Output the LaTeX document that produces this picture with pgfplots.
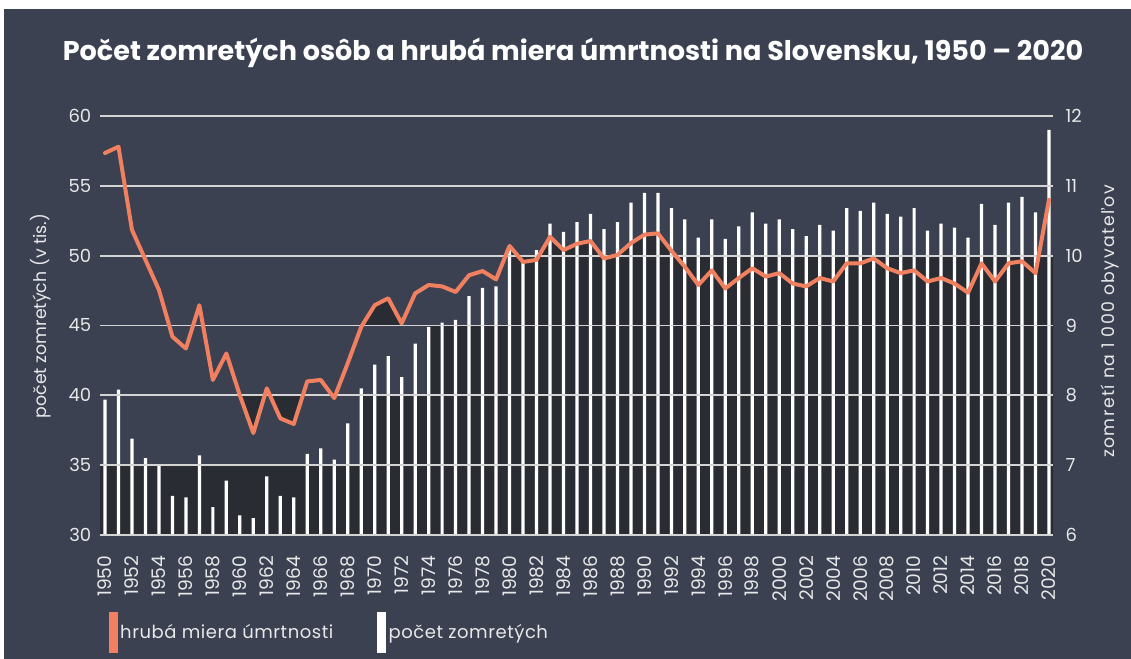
\documentclass[border=0pt]{standalone}
\usepackage{fontspec}
\setmainfont{Poppins}
\usepackage{pgfplots}
\pgfplotsset{compat=1.18}
\usepackage{pgfplotstable}

\definecolor{navy}{RGB}{59,65,81}
\definecolor{darkfill}{RGB}{42,44,51}
\definecolor{myorange}{RGB}{240,128,95}
\definecolor{gridgray}{RGB}{212,212,212}
\definecolor{txt}{RGB}{232,232,232}

% deaths in thousands
\pgfplotstableread{
year deaths
1950 39.7
1951 40.4
1952 36.9
1953 35.5
1954 35.0
1955 32.8
1956 32.7
1957 35.7
1958 32.0
1959 33.9
1960 31.4
1961 31.2
1962 34.2
1963 32.8
1964 32.7
1965 35.8
1966 36.2
1967 35.4
1968 38.0
1969 40.5
1970 42.2
1971 42.8
1972 41.3
1973 43.7
1974 44.9
1975 45.2
1976 45.4
1977 47.1
1978 47.7
1979 47.8
1980 50.4
1981 49.5
1982 50.4
1983 52.3
1984 51.7
1985 52.4
1986 53.0
1987 51.9
1988 52.4
1989 53.8
1990 54.5
1991 54.5
1992 53.4
1993 52.6
1994 51.3
1995 52.6
1996 51.2
1997 52.1
1998 53.1
1999 52.3
2000 52.6
2001 51.9
2002 51.4
2003 52.2
2004 51.8
2005 53.4
2006 53.2
2007 53.8
2008 53.0
2009 52.8
2010 53.4
2011 51.8
2012 52.3
2013 52.0
2014 51.3
2015 53.7
2016 52.2
2017 53.8
2018 54.2
2019 53.1
2020 59.0
}\deathtab

% crude death rate per 1000
\pgfplotstableread{
year rate
1950 11.47
1951 11.56
1952 10.37
1953 9.94
1954 9.51
1955 8.84
1956 8.67
1957 9.29
1958 8.22
1959 8.60
1960 8.00
1961 7.46
1962 8.10
1963 7.67
1964 7.59
1965 8.20
1966 8.22
1967 7.96
1968 8.46
1969 8.98
1970 9.29
1971 9.39
1972 9.03
1973 9.46
1974 9.58
1975 9.56
1976 9.48
1977 9.72
1978 9.78
1979 9.66
1980 10.14
1981 9.91
1982 9.94
1983 10.27
1984 10.08
1985 10.17
1986 10.21
1987 9.96
1988 10.01
1989 10.18
1990 10.30
1991 10.32
1992 10.07
1993 9.84
1994 9.58
1995 9.79
1996 9.53
1997 9.68
1998 9.82
1999 9.70
2000 9.75
2001 9.60
2002 9.56
2003 9.68
2004 9.63
2005 9.89
2006 9.89
2007 9.96
2008 9.82
2009 9.75
2010 9.79
2011 9.63
2012 9.68
2013 9.60
2014 9.47
2015 9.89
2016 9.63
2017 9.89
2018 9.92
2019 9.75
2020 10.80
}\ratetab

\begin{document}
\begin{tikzpicture}[x=0.75pt,y=0.75pt]
\path[use as bounding box] (0,0) rectangle (1131,659);
\fill[white] (0,0) rectangle (1131,659);
\fill[navy] (4,0) rectangle (1131,650);
\node[text=white, font=\bfseries\fontsize{20.3}{23}\selectfont] at (573,606)
  {Počet zomretých osôb a hrubá miera úmrtnosti na Slovensku, 1950 – 2020};

\begin{axis}[
  at={(100pt*0.75,124pt*0.75)}, anchor=south west,
  width=714.75pt, height=314.25pt, scale only axis,
  xmin=1949.63, xmax=2020.3, ymin=30, ymax=60,
  ytick={30,35,...,60}, xtick={1950,1952,...,2020},
  major tick length=0pt,
  axis line style={draw=none},
  yticklabel style={text=txt, font=\fontsize{13.5}{14}\selectfont},
  xticklabel style={text=txt, font=\fontsize{14}{14}\selectfont, rotate=90, anchor=east},
  /pgf/number format/assume math mode=true,
  /pgf/number format/1000 sep={},
  xticklabel shift=12pt,
  yticklabel shift=3pt,
  ylabel={počet zomretých (v tis.)},
  ylabel style={text=txt, font=\fontsize{13}{14}\selectfont,
    at={(axis description cs:-0.062,0.523)}, anchor=center},
  legend style={at={(axis description cs:0.005,-0.2315)}, anchor=west,
    draw=none, fill=none, text=txt,
    font=\fontsize{13.5}{14}\selectfont\addfontfeatures{LetterSpace=3},
    /tikz/every even column/.append style={column sep=31pt}},
  legend columns=2, legend cell align=left,
]
% dark enclosed cells
\addplot[draw=none, fill=darkfill, const plot, forget plot]
  coordinates {(1949.63,35) (1969,40) (1974,45) (1980,50) (2020.3,50) (2020.3,0) (1949.63,0)} -- cycle;
\begin{scope}
\clip (axis cs:1959.5,35) rectangle (axis cs:1965,40);
\addplot[draw=none, fill=darkfill, forget plot]
  table[x=year, y expr=30+5*(\thisrow{rate}-6)] {\ratetab}
  -- (axis cs:2020,60) -- (axis cs:1950,60) -- cycle;
\end{scope}
\begin{scope}
\clip (axis cs:1969,45) rectangle (axis cs:1972,50);
\addplot[draw=none, fill=darkfill, forget plot]
  table[x=year, y expr=30+5*(\thisrow{rate}-6)] {\ratetab}
  -- (axis cs:2020,30) -- (axis cs:1950,30) -- cycle;
\end{scope}
\begin{scope}
\clip (axis cs:1979.5,50) rectangle (axis cs:1992.5,55);
\addplot[draw=none, fill=darkfill, forget plot]
  table[x=year, y expr=30+5*(\thisrow{rate}-6)] {\ratetab}
  -- (axis cs:2020,30) -- (axis cs:1950,30) -- cycle;
\end{scope}
% bars
\addplot[ybar, bar width=0.24, bar shift=0pt, fill=white, draw=none, forget plot]
  table[x=year, y=deaths] {\deathtab};
\addlegendimage{legend image code/.code={\fill[myorange] (0pt,-15pt) rectangle (6pt,15pt);}}
\addlegendentry{hrubá miera úmrtnosti}
\addlegendimage{legend image code/.code={\fill[white] (0pt,-15pt) rectangle (6pt,15pt);}}
\addlegendentry{počet zomretých}
\end{axis}

\begin{axis}[
  at={(100pt*0.75,124pt*0.75)}, anchor=south west,
  width=714.75pt, height=314.25pt, scale only axis,
  xmin=1949.63, xmax=2020.3, ymin=6, ymax=12,
  axis x line=none, axis y line*=right,
  axis line style={draw=none},
  ymajorgrids, major grid style={draw=gridgray, line width=1.3pt},
  ytick={6,7,...,12}, major tick length=0pt,
  yticklabel style={text=txt, font=\fontsize{13.5}{14}\selectfont},
  /pgf/number format/assume math mode=true,
  yticklabel shift=6pt,
  ylabel={zomretí na 1 000 obyvateľov},
  ylabel style={text=txt,
    font=\fontsize{13}{14}\selectfont\addfontfeatures{LetterSpace=8},
    at={(axis description cs:1.0598,0.51)}, anchor=center},
]
\addplot[myorange, line width=3pt, line join=round, line cap=round]
  table[x=year, y=rate] {\ratetab};
\end{axis}
\end{tikzpicture}
\end{document}
